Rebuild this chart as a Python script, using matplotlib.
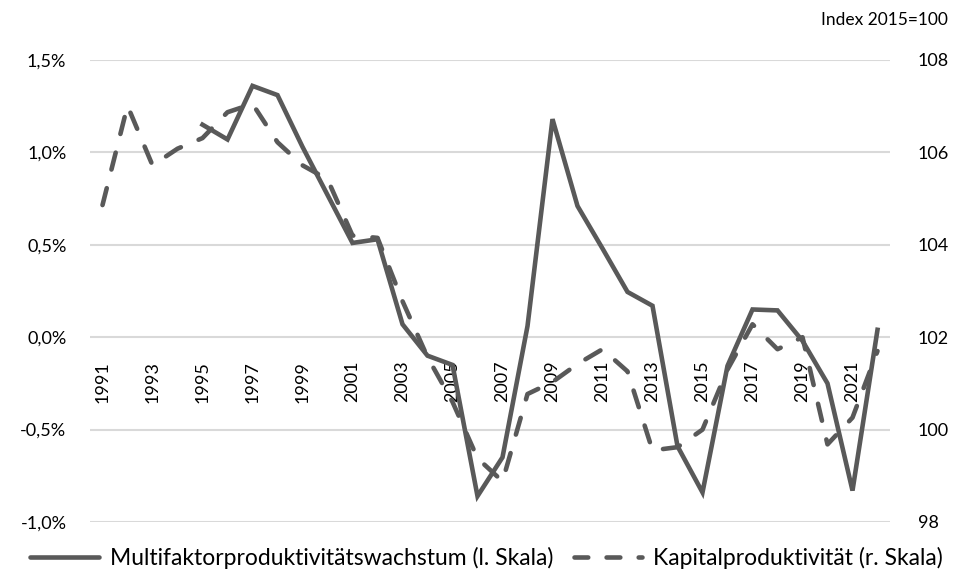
import matplotlib
matplotlib.use("Agg")
import matplotlib.pyplot as plt
import numpy as np
from matplotlib.lines import Line2D

plt.rcParams['font.family'] = ['Lato', 'DejaVu Sans']

years = list(range(1991, 2023))
mfp_growth = [np.nan, np.nan, np.nan, np.nan,
              1.15, 1.07, 1.36, 1.31, 1.03, 0.77, 0.51, 0.53, 0.07, -0.10,
              -0.15, -0.86, -0.65, 0.06, 1.18, 0.71, 0.48, 0.245, 0.17, -0.59,
              -0.84, -0.155, 0.15, 0.145, -0.02, -0.25, -0.83, 0.04]
capital_prod = [104.86, 107.01, 105.72, 106.08, 106.31, 106.87, 107.05, 106.22,
                105.72, 105.42, 104.2, 104.15, 102.78, 101.57, 100.6, 99.38,
                98.88, 100.77, 101.03, 101.42, 101.74, 101.26, 99.55, 99.62,
                100.0, 101.3, 102.28, 101.74, 102.0, 99.68, 100.26, 101.7]
left_ticks = [-1.0, -0.5, 0.0, 0.5, 1.0, 1.5]
left_tick_labels = ['-1,0%', '-0,5%', '0,0%', '0,5%', '1,0%', '1,5%']
right_ticks = [98, 100, 102, 104, 106, 108]
label_mfp = 'Multifaktorproduktivitätswachstum (l. Skala)'
label_cap = 'Kapitalproduktivität (r. Skala)'
right_unit = 'Index 2015=100'

line_color = '#595959'
grid_color = '#d9d9d9'
fs = 13
lw = 3.3
dash = (0, (3.8, 4.2))

fig = plt.figure(figsize=(9.67, 5.75), dpi=100)
ax = fig.add_axes([90/967, 1-522/575, 800/967, 462/575])
x = np.arange(len(years))

ax.set_xlim(-0.5, len(years)-0.5)
ax.set_ylim(-1.0, 1.5)
ax.set_yticks(left_ticks)
ax.set_yticklabels(left_tick_labels)
ax.yaxis.grid(True, color=grid_color, linewidth=1.5)
ax.set_axisbelow(True)
for s in ['top', 'right', 'left']:
    ax.spines[s].set_visible(False)
ax.spines['bottom'].set_position(('data', 0))
ax.spines['bottom'].set_color('none')
ax.set_xticks(x[::2])
ax.set_xticklabels([str(y) for y in years[::2]], rotation=90)
ax.tick_params(axis='x', length=0, pad=17, labelsize=13)
ax.tick_params(axis='y', length=0, pad=17, labelsize=fs)

ax.plot(x, mfp_growth, color=line_color, linewidth=lw, solid_joinstyle='miter')

ax2 = ax.twinx()
ax2.set_ylim(98, 108)
ax2.set_yticks(right_ticks)
ax2.set_yticklabels([str(t) for t in right_ticks])
ax2.tick_params(axis='y', length=0, pad=20, labelsize=fs)
for s in ax2.spines.values():
    s.set_visible(False)
ax2.plot(x, capital_prod, color=line_color, linewidth=lw, linestyle=dash,
         dash_capstyle='round')

fig.text(948/967, 1-20/575, right_unit, ha='right', va='center', fontsize=12.5)

handles = [Line2D([0], [0], color=line_color, linewidth=lw, solid_capstyle='round'),
           Line2D([0], [0], color=line_color, linewidth=lw, linestyle=(0, (3.0, 4.0)),
                  dash_capstyle='round')]
fig.legend(handles, [label_mfp, label_cap], loc='center', bbox_to_anchor=(0.503, 1-558/575),
           ncol=2, frameon=False, fontsize=16.5, handlelength=3.0, columnspacing=0.9,
           handletextpad=0.45, borderpad=0.0, borderaxespad=0.0)

fig.savefig('out.png', dpi=100)
